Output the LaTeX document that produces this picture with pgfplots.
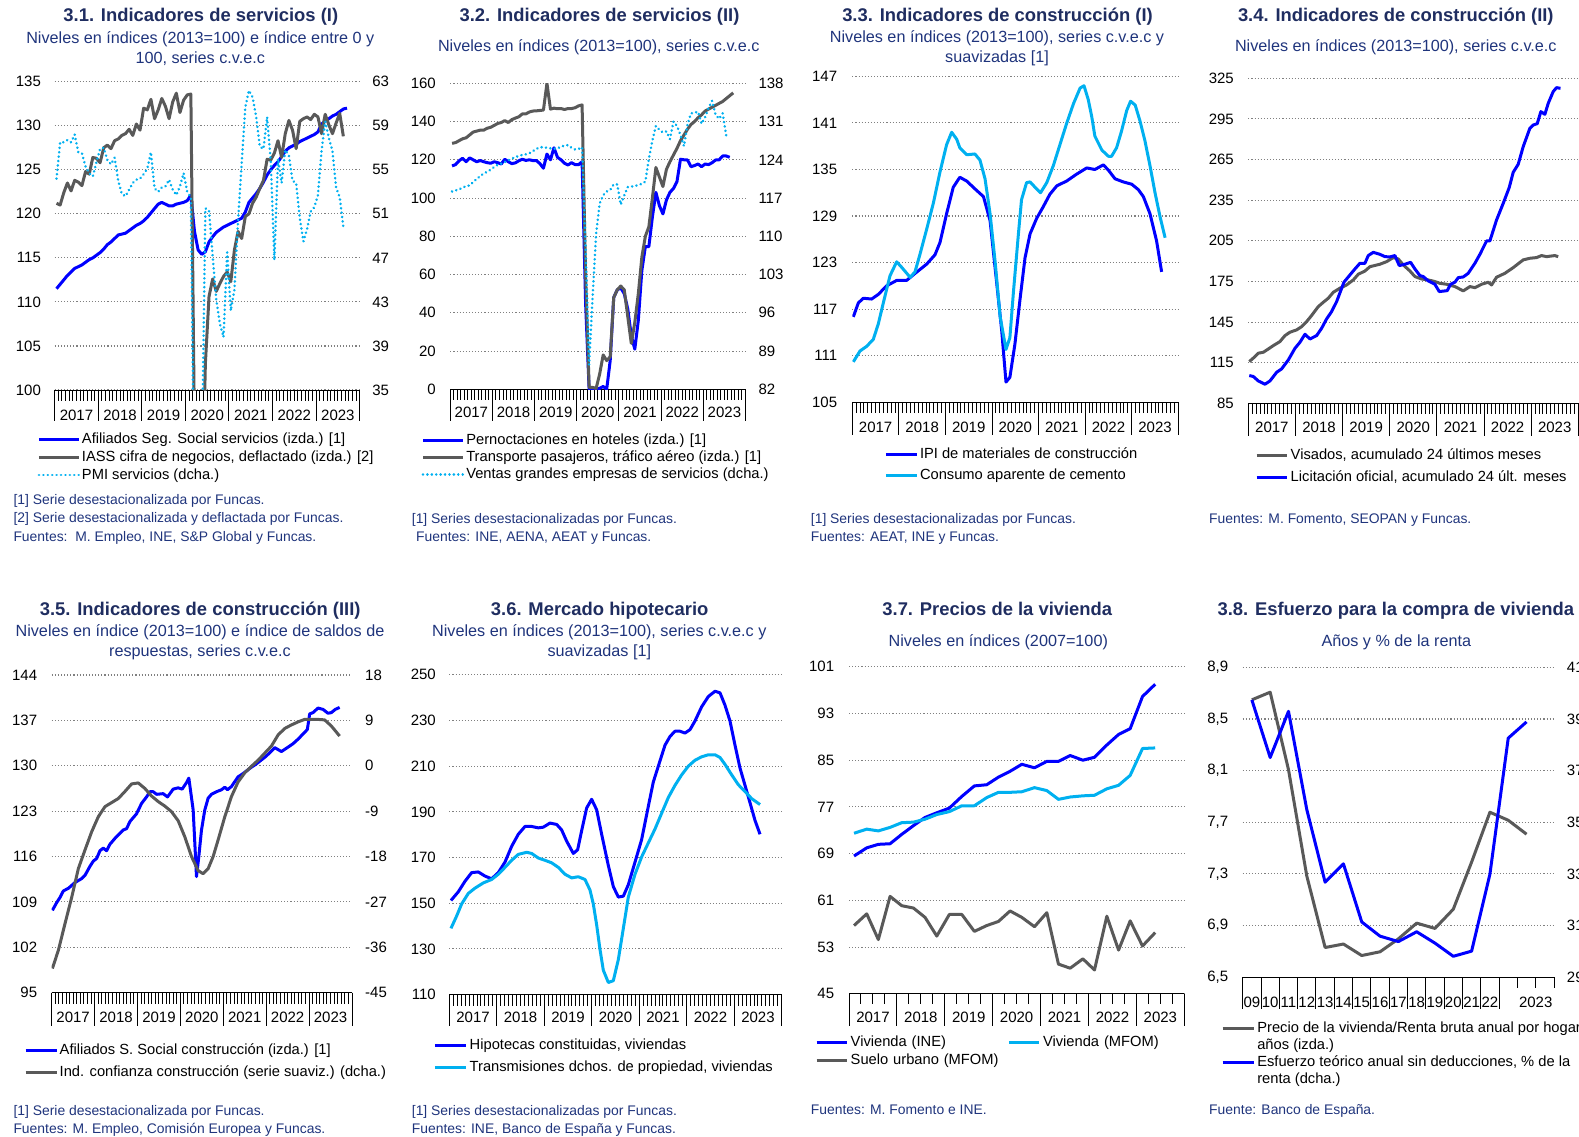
\documentclass[border=0pt]{standalone}
\usepackage{pgfplots}
\pgfplotsset{compat=1.18}
\usepackage{fontspec}
\setmainfont{Liberation Sans}
\definecolor{ttl}{RGB}{31,45,96}
\definecolor{sub}{RGB}{31,52,124}
\definecolor{cblue}{RGB}{0,0,255}
\definecolor{cgray}{RGB}{89,89,89}
\definecolor{ccyan}{RGB}{0,176,240}
\definecolor{cgrid}{RGB}{128,128,128}
\newcommand{\fs}[1]{\fontsize{#1}{#1}\selectfont}

\pgfplotsset{
  base/.style={scale only axis, anchor=south west, enlargelimits=false, no markers,
    axis x line*=bottom, axis y line*=left, axis line style={-, line width=1pt, black},
    y axis line style={draw=none}, ytick style={draw=none},
    tick align=inside, xtick style={line width=1pt, black},
    major tick length=0pt, minor tick length=-11pt,
    ymajorgrids, grid style={line width=1.1pt, cgrid, dash pattern=on 1.1pt off 2pt},
    tick label style={font=\fs{15}, text=black},
    yticklabel style={anchor=east, inner sep=0pt},
    xticklabel style={anchor=center, inner sep=0pt}},
  rax/.style={scale only axis, anchor=south west, enlargelimits=false, no markers,
    axis x line=none, axis y line*=right, axis line style={-},
    y axis line style={draw=none}, ytick style={draw=none}, major tick length=0pt,
    tick label style={font=\fs{15}, text=black},
    yticklabel style={anchor=west, inner sep=0pt}},
  monthly/.style={xmin=0, xmax=84, xtick={6,18,30,42,54,66,78},
    xticklabels={2017,2018,2019,2020,2021,2022,2023}, minor xtick={0,1,...,84},
    extra x ticks={0,12,24,36,48,60,72,84}, extra x tick labels={},
    extra x tick style={major tick length=-31.5pt}},
  leg/.style={legend cell align=left, legend style={draw=none, fill=none, inner sep=0pt, outer sep=0pt,
    at={(0,0)}, anchor=north west, font=\fs{14.7},
    nodes={inner sep=0pt, text height=11pt, text depth=3pt}}},
  limg/.style={legend image code/.code={\draw[##1] (0pt,0pt) -- (#1,0pt);}},
  lb/.style={cblue, line width=3pt, line join=round},
  lg/.style={cgray, line width=3pt, line join=round},
  lc/.style={ccyan, line width=3pt, line join=round},
  ld/.style={ccyan, line width=2.8pt, line cap=round, dash pattern=on 0.01pt off 4.4pt},
}

\begin{document}
\begin{tikzpicture}
\path[use as bounding box] (0pt,0pt) rectangle (1579pt,-1137pt);

% ================= 3.1 =================
\begin{axis}[base, monthly, at={(54.7pt,-390pt)}, width=305pt, height=308.3pt,
  ymin=100, ymax=135, ytick={100,105,...,135}, yticklabels={100,105,110,115,120,125,130,135},
  yticklabel style={xshift=-13.6pt}, xticklabel style={yshift=-25pt}]
\addplot[lb] coordinates {(0.5,111.5)(1.5,112.0)(2.5,112.5)(3.5,113.0)(4.5,113.4)(5.5,113.8)(6.5,114.0)(7.5,114.2)(8.5,114.5)(9.5,114.8)(10.5,115.0)(11.5,115.3)(12.5,115.6)(13.5,116.0)(14.5,116.5)(15.5,116.8)(16.5,117.2)(17.5,117.6)(18.5,117.7)(19.5,117.8)(20.5,118.1)(21.5,118.4)(22.5,118.7)(23.5,118.9)(24.5,119.2)(25.5,119.6)(26.5,120.1)(27.5,120.6)(28.5,121.1)(29.5,121.3)(30.5,121.1)(31.5,120.9)(32.5,120.9)(33.5,121.1)(34.5,121.2)(35.5,121.3)(36.5,121.5)(37.5,122.1)(38.5,118.0)(39.5,115.9)(40.5,115.4)(41.5,115.7)(42.5,116.8)(43.5,117.4)(44.5,117.9)(45.5,118.2)(46.5,118.5)(47.5,118.7)(48.5,118.9)(49.5,119.1)(50.5,119.3)(51.5,119.5)(52.5,120.2)(53.5,121.3)(54.5,121.8)(55.5,122.3)(56.5,122.9)(57.5,123.6)(58.5,124.4)(59.5,125.0)(60.5,125.5)(61.5,125.9)(62.5,126.5)(63.5,127.1)(64.5,127.5)(65.5,127.7)(66.5,127.9)(67.5,128.2)(68.5,128.4)(69.5,128.6)(70.5,128.8)(71.5,129.0)(72.5,129.3)(73.5,130.2)(74.5,130.5)(75.5,130.8)(76.5,131.1)(77.5,131.3)(78.5,131.6)(79.5,131.9)(80.5,132.0)};
\addplot[lg] coordinates {(0.5,121.2)(1.5,121.0)(2.5,122.4)(3.5,123.5)(4.5,122.6)(5.5,123.8)(6.5,123.6)(7.5,123.2)(8.5,124.8)(9.5,124.5)(10.5,126.4)(11.5,126.3)(12.5,125.8)(13.5,127.5)(14.5,127.8)(15.5,127.4)(16.5,128.3)(17.5,128.5)(18.5,128.9)(19.5,129.1)(20.5,129.6)(21.5,128.9)(22.5,130.2)(23.5,129.5)(24.5,132.0)(25.5,131.8)(26.5,133.0)(27.5,130.8)(28.5,131.8)(29.5,133.1)(30.5,132.2)(31.5,130.8)(32.5,132.7)(33.5,133.7)(34.5,131.5)(35.5,132.9)(36.5,133.5)(37.5,133.6)(38.5,95)(39.5,75)(40.5,85)(41.5,103)(42.5,110.6)(43.5,112.6)(44.5,111.2)(45.5,112.1)(46.5,112.9)(47.5,113.4)(48.5,112.3)(49.5,115.9)(50.5,118.0)(51.5,117.2)(52.5,119.7)(53.5,120.0)(54.5,121.2)(55.5,121.9)(56.5,122.9)(57.5,123.8)(58.5,126.2)(59.5,126.1)(60.5,126.9)(61.5,128.3)(62.5,126.4)(63.5,129.1)(64.5,130.6)(65.5,129.5)(66.5,127.4)(67.5,130.5)(68.5,130.8)(69.5,131.0)(70.5,130.7)(71.5,131.3)(72.5,131.0)(73.5,129.1)(74.5,131.3)(75.5,130.1)(76.5,129.1)(77.5,130.3)(78.5,131.4)(79.5,128.8)};
\end{axis}
\begin{axis}[rax, leg, limg=40pt, at={(54.7pt,-390pt)}, width=305pt, height=308.3pt, xmin=0, xmax=84,
  ymin=35, ymax=63, ytick={35,39,...,63}, yticklabels={35,39,43,47,51,55,59,63},
  yticklabel style={xshift=12.4pt},
  legend style={xshift=-17.2pt, yshift=-42pt, row sep=4pt, column sep=1.5pt}]
\addlegendimage{lb}\addlegendentry{Afiliados Seg. Social servicios (izda.) [1]}
\addlegendimage{lg}\addlegendentry{IASS cifra de negocios, deflactado (izda.) [2]}
\addplot[ld] coordinates {(0.5,54.2)(1.5,57.5)(2.5,57.5)(3.5,57.7)(4.5,57.5)(5.5,58.2)(6.5,56.6)(7.5,56.5)(8.5,55.3)(9.5,54.7)(10.5,54.4)(11.5,55.7)(12.5,56.9)(13.5,57.0)(14.5,55.9)(15.5,55.5)(16.5,56.1)(17.5,54.0)(18.5,52.8)(19.5,52.6)(20.5,53.2)(21.5,53.8)(22.5,54.1)(23.5,54.2)(24.5,54.6)(25.5,55.1)(26.5,56.6)(27.5,53.3)(28.5,53.0)(29.5,53.4)(30.5,53.5)(31.5,54.1)(32.5,53.2)(33.5,52.7)(34.5,53.5)(35.5,54.7)(36.5,53.0)(37.5,52.5)(38.5,23.0)(39.5,7.1)(40.5,27.9)(41.5,51.5)(42.5,51.3)(43.5,47.2)(44.5,43.2)(45.5,41.0)(46.5,39.8)(47.5,47.5)(48.5,42.2)(49.5,44.1)(50.5,50.4)(51.5,55.6)(52.5,60.7)(53.5,62.2)(54.5,61.6)(55.5,59.8)(56.5,57.1)(57.5,56.9)(58.5,59.8)(59.5,55.8)(60.5,46.8)(61.5,56.0)(62.5,53.8)(63.5,56.8)(64.5,56.3)(65.5,54.0)(66.5,53.8)(67.5,50.6)(68.5,48.5)(69.5,49.6)(70.5,51.2)(71.5,51.6)(72.5,52.7)(73.5,56.7)(74.5,59.4)(75.5,57.9)(76.5,56.7)(77.5,53.4)(78.5,52.5)(79.5,49.8)};
\addlegendentry{PMI servicios (dcha.)}
\end{axis}

% ================= 3.2 =================
\begin{axis}[base, monthly, at={(450.3pt,-389.3pt)}, width=295.2pt, height=306pt,
  ymin=0, ymax=160, ytick={0,20,...,160}, yticklabels={0,20,40,60,80,100,120,140,160},
  yticklabel style={xshift=-14.3pt}, xticklabel style={yshift=-23pt}]
\addplot[lb] coordinates {(0.5,116.8)(1.5,117.5)(2.5,119.5)(3.5,120.8)(4.5,119.0)(5.5,121.0)(6.5,120.0)(7.5,119.0)(8.5,119.6)(9.5,119.0)(10.5,118.5)(11.5,118.2)(12.5,119.0)(13.5,118.5)(14.5,117.8)(15.5,120.3)(16.5,119.0)(17.5,118.0)(18.5,118.4)(19.5,119.5)(20.5,120.3)(21.5,119.7)(22.5,120.0)(23.5,119.6)(24.5,119.6)(25.5,118.0)(26.5,115.6)(27.5,123.0)(28.5,120.0)(29.5,126.3)(30.5,121.3)(31.5,120.0)(32.5,118.2)(33.5,117.3)(34.5,118.5)(35.5,117.5)(36.5,117.5)(37.5,119.0)(38.5,45)(39.5,0)(40.5,0)(41.5,0)(42.5,0.5)(43.5,1.5)(44.5,0)(45.5,15)(46.5,48)(47.5,52)(48.5,53)(49.5,50)(50.5,42)(51.5,28)(52.5,21)(53.5,36)(54.5,62)(55.5,74.6)(56.5,74.6)(57.5,90)(58.5,103)(59.5,96)(60.5,91.7)(61.5,99)(62.5,103)(63.5,105)(64.5,108.6)(65.5,120.3)(66.5,120)(67.5,119.9)(68.5,116.4)(69.5,117)(70.5,117.8)(71.5,116.4)(72.5,117.8)(73.5,117.5)(74.5,118.5)(75.5,119.9)(76.5,120)(77.5,122)(78.5,122)(79.5,121.3)};
\addplot[lg] coordinates {(0.5,128.6)(1.5,129.0)(2.5,130.0)(3.5,131.0)(4.5,131.5)(5.5,133.0)(6.5,134.5)(7.5,135.0)(8.5,135.5)(9.5,135.5)(10.5,136.5)(11.5,137.0)(12.5,138.0)(13.5,139.0)(14.5,139.5)(15.5,140.5)(16.5,139.5)(17.5,141.0)(18.5,141.8)(19.5,142.5)(20.5,144.0)(21.5,144.0)(22.5,145.0)(23.5,145.5)(24.5,145.6)(25.5,145.8)(26.5,146.0)(27.5,160.0)(28.5,146.5)(29.5,147.0)(30.5,146.7)(31.5,146.8)(32.5,146.3)(33.5,146.8)(34.5,146.8)(35.5,147.2)(36.5,148.2)(37.5,148.7)(38.5,60)(39.5,1)(40.5,1)(41.5,0.5)(42.5,8)(43.5,18)(44.5,15)(45.5,17)(46.5,48)(47.5,52)(48.5,54)(49.5,52)(50.5,38)(51.5,24)(52.5,35)(53.5,50)(54.5,69)(55.5,80)(56.5,85)(57.5,100)(58.5,116)(59.5,111)(60.5,106)(61.5,115)(62.5,119)(63.5,122.5)(64.5,126)(65.5,130)(66.5,133)(67.5,136)(68.5,138.5)(69.5,140)(70.5,142)(71.5,143.5)(72.5,145.5)(73.5,146.5)(74.5,147.5)(75.5,148.5)(76.5,149.5)(77.5,150.5)(78.5,152)(79.5,153.5)(80.5,155)};
\end{axis}
\begin{axis}[rax, leg, limg=40pt, at={(450.3pt,-389.3pt)}, width=295.2pt, height=306pt, xmin=0, xmax=84,
  ymin=82, ymax=138, ytick={82,89,...,138}, yticklabels={82,89,96,103,110,117,124,131,138},
  yticklabel style={xshift=12.8pt},
  legend style={xshift=-28.8pt, yshift=-43.7pt, row sep=3.3pt, column sep=1.8pt}]
\addlegendimage{lb}\addlegendentry{Pernoctaciones en hoteles (izda.) [1]}
\addlegendimage{lg}\addlegendentry{Transporte pasajeros, tráfico aéreo (izda.) [1]}
\addplot[ld] coordinates {(0.5,118.2)(1.5,118.4)(2.5,118.6)(3.5,118.9)(4.5,119.2)(5.5,119.3)(6.5,119.9)(7.5,120.5)(8.5,121.0)(9.5,121.5)(10.5,121.8)(11.5,122.2)(12.5,122.7)(13.5,123.1)(14.5,123.3)(15.5,123.6)(16.5,123.9)(17.5,124.2)(18.5,124.5)(19.5,124.7)(20.5,124.9)(21.5,125.0)(22.5,125.2)(23.5,125.6)(24.5,126.0)(25.5,126.3)(26.5,126.3)(27.5,126.2)(28.5,126.1)(29.5,126.0)(30.5,126.1)(31.5,126.4)(32.5,126.6)(33.5,126.7)(34.5,126.2)(35.5,125.9)(36.5,126.0)(37.5,126.3)(38.5,108)(39.5,86.5)(40.5,99)(41.5,110.5)(42.5,116)(43.5,117.5)(44.5,118.2)(45.5,118.5)(46.5,119.5)(47.5,119.5)(48.5,115.8)(49.5,117.5)(50.5,119.0)(51.5,119.1)(52.5,119.2)(53.5,119.4)(54.5,119.6)(55.5,120.0)(56.5,124.2)(57.5,127.5)(58.5,130.2)(59.5,129.5)(60.5,129.0)(61.5,129.2)(62.5,127.8)(63.5,131.0)(64.5,130.2)(65.5,128.5)(66.5,126.5)(67.5,130.5)(68.5,132.5)(69.5,132.6)(70.5,132.8)(71.5,130.6)(72.5,131.8)(73.5,133.5)(74.5,134.8)(75.5,132.2)(76.5,131.5)(77.5,132.5)(78.5,128.5)};
\addlegendentry{Ventas grandes empresas de servicios (dcha.)}
\end{axis}

% ================= 3.3 =================
\begin{axis}[base, monthly, leg, limg=30.7pt, at={(852.3pt,-402.2pt)}, width=326pt, height=325.8pt,
  ymin=105, ymax=147, ytick={105,111,...,147}, yticklabels={105,111,117,123,129,135,141,147},
  yticklabel style={xshift=-15pt}, xticklabel style={yshift=-25pt}, extra x tick style={major tick length=-32.4pt},
  legend style={xshift=32pt, yshift=-45.3pt, row sep=6.7pt, column sep=2pt}]
\addplot[lb] coordinates {(0.26,116.0)(1.55,117.8)(2.84,118.4)(4.98,118.3)(6.70,118.9)(8.85,120.0)(11.43,120.7)(14.0,120.7)(16.15,121.6)(19.16,122.8)(21.3,124.0)(22.6,125.6)(24.3,129.3)(26.0,132.7)(27.7,134.0)(29.5,133.5)(31.6,132.5)(33.8,131.5)(35.5,128.4)(37.2,120.4)(38.5,114.2)(39.6,107.6)(40.6,108.2)(41.9,112.5)(43.2,118.2)(44.5,123.6)(45.8,126.7)(47.5,128.7)(49.2,130.2)(50.9,131.8)(52.7,132.9)(55.2,133.5)(57.8,134.4)(60.4,135.2)(62.5,135.0)(64.7,135.6)(66.0,134.9)(67.7,133.8)(69.8,133.4)(72.0,133.1)(73.7,132.4)(75.0,131.5)(76.7,129.3)(78.4,125.8)(79.7,121.8)};
\addlegendentry{IPI de materiales de construcción}
\addplot[lc] coordinates {(0.26,110.2)(1.98,111.6)(3.69,112.2)(5.41,113.1)(6.70,115.1)(7.99,117.8)(9.71,121.3)(11.43,123.1)(12.7,122.4)(14.9,121.1)(16.15,121.8)(17.4,124.0)(19.16,127.3)(20.9,130.7)(22.6,134.7)(24.3,138.2)(25.6,139.8)(26.9,138.9)(27.7,137.8)(29.5,136.9)(31.6,137.0)(32.9,136.2)(34.2,133.8)(35.5,129.3)(36.8,123.1)(38.1,116.0)(39.6,111.8)(40.6,113.3)(41.5,119.1)(42.8,126.7)(43.6,131.1)(44.9,133.3)(45.8,133.4)(47.1,132.7)(48.5,132.0)(50.1,133.3)(51.8,135.5)(53.5,138.2)(55.2,140.9)(57.0,143.5)(58.7,145.5)(59.7,145.8)(60.8,144.0)(61.7,141.8)(62.5,139.3)(64.3,137.5)(66.0,136.7)(66.8,136.7)(68.1,137.8)(69.4,140.0)(70.7,142.6)(71.7,143.8)(72.9,143.3)(74.1,141.3)(75.4,138.7)(76.7,135.5)(78.0,132.0)(79.3,128.9)(80.6,126.2)};
\addlegendentry{Consumo aparente de cemento}
\end{axis}

% ================= 3.4 =================
\begin{axis}[base, monthly, leg, limg=30pt, at={(1248.3pt,-403.3pt)}, width=330pt, height=325pt,
  ymin=85, ymax=325, ytick={85,115,...,325}, yticklabels={85,115,145,175,205,235,265,295,325},
  yticklabel style={xshift=-14.3pt}, xticklabel style={yshift=-24pt}, extra x tick style={major tick length=-32.3pt},
  legend style={xshift=6.7pt, yshift=-44.9pt, row sep=7.8pt, column sep=2.7pt}]
\addplot[lg] coordinates {(0.25,115.8)(1.70,119.5)(2.54,122.0)(3.82,122.7)(5.09,125.1)(6.36,127.6)(8.06,130.6)(9.33,135.0)(10.6,137.5)(12.3,139.2)(13.57,141.6)(14.84,145.3)(16.1,149.8)(17.81,156.4)(19.08,159.6)(20.36,162.6)(21.63,167.0)(23.32,170.0)(25.02,172.4)(26.72,176.1)(27.99,180.3)(29.69,182.7)(30.96,185.9)(33.5,187.7)(35.2,189.6)(36.9,192.6)(38.17,191.6)(39.44,187.2)(41.14,182.7)(42.41,178.6)(44.1,176.8)(45.8,176.1)(47.5,174.9)(48.77,173.6)(50.47,172.9)(52.59,171.2)(54.71,168.0)(56.4,171.2)(57.68,170.4)(59.37,172.9)(61.07,174.4)(61.92,172.4)(63.19,178.1)(65.31,181.0)(67.43,185.2)(69.97,190.9)(71.67,192.1)(73.37,192.6)(74.64,194.1)(75.91,193.3)(78.03,194.1)(78.88,193.3)};
\addlegendentry{Visados, acumulado 24 últimos meses}
\addplot[lb] coordinates {(0.25,105.5)(1.27,104.8)(2.54,101.5)(4.24,99.1)(5.51,101.5)(7.21,107.9)(8.48,110.4)(10.18,117.0)(11.87,125.6)(13.15,130.1)(14.42,136.0)(15.69,132.5)(17.39,135.0)(18.66,140.4)(19.93,147.3)(21.2,152.7)(22.48,160.1)(24.34,174.4)(25.87,179.8)(27.14,184.2)(28.41,188.4)(29.69,188.4)(30.53,194.1)(31.81,196.5)(33.5,195.0)(34.78,193.3)(36.05,193.1)(37.32,194.1)(38.42,186.7)(39.86,187.7)(41.31,189.1)(42.41,184.2)(43.68,179.3)(44.53,178.6)(45.8,175.4)(47.5,172.9)(48.6,167.5)(50.64,168.2)(51.48,172.9)(52.59,174.4)(53.44,177.8)(54.71,178.3)(55.98,181.0)(57.68,188.4)(58.95,195.0)(60.65,204.9)(61.49,204.9)(63.19,220.4)(64.89,232.7)(66.41,244.3)(67.43,255.6)(68.7,261.5)(69.97,274.5)(71.67,288.1)(72.52,290.5)(73.54,291.5)(74.47,300.4)(75.49,298.4)(76.34,306.5)(77.61,315.2)(78.46,318.1)(79.47,317.6)};
\addlegendentry{Licitación oficial, acumulado 24 últ. meses}
\end{axis}

% ================= 3.5 =================
\begin{axis}[base, monthly, at={(51.7pt,-992.7pt)}, width=300.3pt, height=317.7pt,
  ymin=95, ymax=144, ytick={95,102,...,144}, yticklabels={95,102,109,116,123,130,137,144},
  yticklabel style={xshift=-14.4pt}, xticklabel style={yshift=-24.6pt}, extra x tick style={major tick length=-33pt}]
\addplot[lb] coordinates {(0.19,107.7)(1.40,108.9)(2.33,109.7)(3.26,110.7)(4.66,111.1)(6.52,112.0)(8.38,112.6)(9.31,113.1)(10.71,114.5)(11.64,115.3)(12.57,115.7)(13.5,116.9)(14.43,117.3)(15.36,116.9)(16.29,117.9)(17.69,118.8)(19.09,119.6)(20.02,120.1)(20.95,120.3)(21.88,121.4)(22.81,122.0)(23.74,122.6)(25.14,124.2)(26.54,125.2)(27.47,126.0)(28.4,126.0)(29.33,125.6)(31.19,125.7)(32.4,125.2)(33.98,126.4)(35.38,126.6)(36.5,126.4)(37.71,127.4)(38.36,128.1)(39.57,123.2)(40.5,112.9)(41.15,116.0)(41.9,120.1)(42.83,123.2)(43.76,125.0)(44.69,125.6)(46.09,126.0)(47.49,126.3)(48.42,126.7)(49.16,126.3)(50.28,126.8)(52.14,128.3)(53.54,128.8)(55.4,129.6)(57.26,130.3)(59.59,131.3)(60.99,132.0)(62.38,132.8)(64.25,132.2)(65.64,132.7)(67.5,133.4)(68.9,134.1)(70.3,134.9)(71.51,135.6)(72.16,138.0)(73.09,138.2)(74.49,138.9)(75.88,138.7)(77.28,138.1)(78.21,138.2)(79.33,138.7)(80.54,139.0)};
\end{axis}
\begin{axis}[rax, leg, limg=31pt, at={(51.7pt,-992.7pt)}, width=300.3pt, height=317.7pt, xmin=0, xmax=84,
  ymin=-45, ymax=18, ytick={-45,-36,...,18}, yticklabels={-45,-36,-27,-18,-9,0,9,18},
  yticklabel style={xshift=13pt},
  legend style={xshift=-27.7pt, yshift=-50.7pt, row sep=7.6pt, column sep=1.7pt}]
\addlegendimage{lb}\addlegendentry{Afiliados S. Social construcción (izda.) [1]}
\addplot[lg] coordinates {(0.19,-40.2)(1.86,-36.6)(3.72,-31.3)(5.59,-26.1)(7.45,-20.4)(9.31,-16.7)(11.17,-13.1)(13.04,-10.1)(14.9,-8.1)(16.76,-7.3)(18.62,-6.5)(20.48,-5.1)(22.35,-3.6)(24.21,-3.4)(26.07,-4.5)(27.93,-6.0)(29.8,-7.1)(31.66,-8.0)(33.52,-9.1)(35.38,-10.9)(37.24,-14.1)(39.11,-18.0)(40.97,-20.8)(42.36,-21.4)(43.76,-20.4)(45.16,-18.0)(46.55,-14.7)(48.42,-10.1)(50.28,-6.1)(52.14,-3.2)(54.0,-1.4)(55.87,-0.1)(57.73,1.1)(59.59,2.5)(61.45,3.9)(63.31,6.1)(65.18,7.4)(67.04,8.1)(68.9,8.7)(70.76,9.2)(72.63,9.2)(74.49,9.2)(76.35,9.1)(78.21,7.9)(80.54,5.9)};
\addlegendentry{Ind. confianza construcción (serie suaviz.) (dcha.)}
\end{axis}

% ================= 3.6 =================
\begin{axis}[base, monthly, leg, limg=31pt, at={(449.3pt,-994.6pt)}, width=332.4pt, height=319.8pt,
  ymin=110, ymax=250, ytick={110,130,...,250}, yticklabels={110,130,150,170,190,210,230,250},
  yticklabel style={xshift=-13.3pt}, xticklabel style={yshift=-22.7pt},
  legend style={xshift=-16pt, yshift=-43.6pt, row sep=8.6pt, column sep=2.4pt}]
\addplot[lb] coordinates {(0.42,151.2)(2.27,155.0)(3.96,159.6)(5.64,163.4)(7.33,163.7)(9.01,161.9)(10.7,160.7)(12.38,163.4)(14.07,168.0)(15.75,174.9)(17.44,180.2)(19.12,183.6)(20.81,183.6)(22.49,183.0)(23.76,183.3)(25.44,185.1)(27.13,184.5)(28.39,182.1)(29.65,177.2)(31.34,171.8)(32.43,173.4)(33.45,181.8)(34.71,191.7)(35.97,195.5)(37.24,190.9)(38.5,180.2)(40.19,166.5)(41.45,157.3)(42.71,152.7)(43.98,153.1)(45.24,158.1)(46.93,168.0)(48.61,177.9)(50.29,192.4)(51.56,203.1)(53.24,212.3)(54.51,219.2)(55.77,223.0)(57.03,225.3)(58.3,225.3)(59.56,224.5)(60.83,226.0)(62.09,229.8)(63.77,236.0)(65.46,240.5)(67.14,242.8)(68.41,242.1)(69.67,236.7)(70.93,229.8)(72.2,219.2)(73.46,209.2)(74.73,201.6)(75.99,194.0)(77.25,186.3)(78.52,180.2)};
\addlegendentry{Hipotecas constituidas, viviendas}
\addplot[lc] coordinates {(0.42,139.0)(1.85,144.4)(3.12,149.7)(4.8,154.3)(6.49,156.6)(8.59,158.9)(10.7,160.4)(12.38,162.7)(14.07,165.7)(15.75,168.8)(17.44,171.4)(19.55,172.3)(20.81,171.8)(22.49,169.8)(24.18,168.8)(25.86,167.7)(27.55,165.7)(29.23,162.7)(30.92,161.1)(32.6,161.6)(34.29,160.4)(35.55,155.8)(36.39,149.7)(37.24,140.5)(38.08,129.8)(38.92,120.7)(40.19,115.3)(41.45,116.1)(42.71,125.3)(43.98,139.0)(45.24,152.7)(46.93,162.7)(48.61,170.3)(50.29,176.4)(51.98,182.5)(53.66,189.4)(55.35,196.3)(57.03,201.6)(58.72,206.2)(60.4,210.0)(62.09,212.6)(63.77,214.1)(65.46,215.0)(67.14,215.0)(68.41,213.8)(69.67,210.8)(71.36,206.2)(73.04,201.9)(74.73,198.9)(76.41,195.8)(78.52,193.2)};
\addlegendentry{Transmisiones dchos. de propiedad, viviendas}
\end{axis}

% ================= 3.7 =================
\begin{axis}[base, leg, limg=30pt, at={(849pt,-993.9pt)}, width=335.3pt, height=327.2pt,
  xmin=0, xmax=28, xtick={2,6,10,14,18,22,26}, xticklabels={2017,2018,2019,2020,2021,2022,2023},
  minor xtick={0,1,...,28}, minor tick length=-10pt,
  extra x ticks={0,4,8,12,16,20,24,28}, extra x tick labels={}, extra x tick style={major tick length=-32pt},
  ymin=45, ymax=101, ytick={45,53,...,101}, yticklabels={45,53,61,69,77,85,93,101},
  yticklabel style={xshift=-14.7pt}, xticklabel style={yshift=-23.4pt},
  legend columns=2,
  legend style={xshift=-34pt, yshift=-41.5pt, row sep=4.5pt, column sep=2.7pt, nodes={text width=153.9pt}}]
\addplot[lb] coordinates {(0.42,68.6)(1.48,70.0)(2.45,70.6)(3.43,70.7)(4.40,72.3)(5.38,73.8)(6.35,75.2)(7.33,76.0)(8.38,76.8)(9.42,78.8)(10.47,80.6)(11.50,80.8)(12.48,82.1)(13.45,83.1)(14.43,84.3)(15.49,83.7)(16.52,84.8)(17.49,84.8)(18.47,85.8)(19.53,85.0)(20.50,85.5)(21.53,87.6)(22.51,89.4)(23.48,90.4)(24.51,95.9)(25.57,98.0)};
\addlegendentry{Vivienda (INE)}
\addplot[lc] coordinates {(0.42,72.5)(1.48,73.2)(2.45,72.9)(3.43,73.5)(4.40,74.3)(5.38,74.4)(6.35,74.9)(7.33,75.7)(8.38,76.2)(9.42,77.2)(10.47,77.2)(11.50,78.6)(12.48,79.5)(13.45,79.5)(14.43,79.6)(15.49,80.3)(16.52,79.8)(17.49,78.3)(18.47,78.7)(19.53,78.9)(20.50,79.0)(21.53,80.1)(22.51,80.7)(23.48,82.4)(24.51,87.0)(25.57,87.1)};
\addlegendentry{Vivienda (MFOM)}
\addplot[lg] coordinates {(0.42,56.7)(1.48,58.7)(2.45,54.3)(3.43,61.7)(4.40,60.1)(5.38,59.7)(6.35,58.1)(7.33,54.9)(8.38,58.6)(9.42,58.6)(10.47,55.7)(11.50,56.7)(12.48,57.4)(13.45,59.2)(14.43,58.1)(15.49,56.5)(16.52,58.9)(17.49,50.1)(18.47,49.4)(19.53,51.0)(20.50,49.1)(21.53,58.3)(22.51,52.5)(23.48,57.5)(24.51,53.2)(25.57,55.5)};
\addlegendentry{Suelo urbano (MFOM)}
\end{axis}

% ================= 3.8 =================
\begin{axis}[base, at={(1242.7pt,-977.2pt)}, width=311.3pt, height=309.8pt,
  xmin=0, xmax=17, xtick={0.5,1.5,2.5,3.5,4.5,5.5,6.5,7.5,8.5,9.5,10.5,11.5,12.5,13.5,16},
  xticklabels={09,10,11,12,13,14,15,16,17,18,19,20,21,22,2023},
  minor xtick={15,16,17}, minor tick length=-10.4pt,
  extra x ticks={0,1,...,14}, extra x tick labels={}, extra x tick style={major tick length=-31.3pt},
  ymin=6.5, ymax=8.9, ytick={6.5,6.9,7.3,7.7,8.1,8.5,8.9}, yticklabels={{6,5},{6,9},{7,3},{7,7},{8,1},{8,5},{8,9}},
  yticklabel style={xshift=-14.4pt}, xticklabel style={yshift=-25pt}]
\addplot[lg] coordinates {(0.5,8.649)(1.5,8.708)(2.5,8.108)(3.5,7.284)(4.5,6.730)(5.5,6.757)(6.5,6.668)(7.5,6.697)(8.5,6.797)(9.5,6.919)(10.5,6.878)(11.5,7.027)(12.5,7.392)(13.5,7.778)(14.5,7.716)(15.5,7.608)};
\end{axis}
\begin{axis}[rax, leg, limg=31.7pt, at={(1242.7pt,-977.2pt)}, width=311.3pt, height=309.8pt, xmin=0, xmax=17,
  ymin=29, ymax=41, ytick={29,31,...,41}, yticklabels={29,31,33,35,37,39,41},
  yticklabel style={xshift=12.7pt},
  legend style={xshift=-21.7pt, yshift=-44.6pt, row sep=3pt, column sep=1.6pt}]
\addlegendimage{lg}\addlegendentry{Precio de la vivienda/Renta bruta anual por hogar,}
\addlegendimage{empty legend}\addlegendentry{años (izda.)}
\addplot[lb] coordinates {(0.5,39.74)(1.5,37.51)(2.5,39.30)(3.5,35.49)(4.5,32.68)(5.5,33.39)(6.5,31.14)(7.5,30.59)(8.5,30.38)(9.5,30.76)(10.5,30.32)(11.5,29.81)(12.5,30.01)(13.5,32.99)(14.5,38.26)(15.5,38.89)};
\addlegendentry{Esfuerzo teórico anual sin deducciones, \% de la}
\addlegendimage{empty legend}\addlegendentry{renta (dcha.)}
\end{axis}

% ================= titles, subtitles, notes =================
\begin{scope}[every node/.style={inner sep=0pt}]
\node[anchor=base, font=\bfseries\fs{18.4}, text=ttl] at (200.8pt,-21.5pt) {3.1. Indicadores de servicios (I)};
\node[anchor=base, font=\bfseries\fs{18.4}, text=ttl] at (599.5pt,-21.5pt) {3.2. Indicadores de servicios (II)};
\node[anchor=base, font=\bfseries\fs{18.4}, text=ttl] at (997.5pt,-21.5pt) {3.3. Indicadores de construcción (I)};
\node[anchor=base, font=\bfseries\fs{18.4}, text=ttl] at (1395.8pt,-21.5pt) {3.4. Indicadores de construcción (II)};
\node[anchor=base, font=\bfseries\fs{18.4}, text=ttl] at (200.2pt,-615pt) {3.5. Indicadores de construcción (III)};
\node[anchor=base, font=\bfseries\fs{18.4}, text=ttl] at (599.7pt,-615pt) {3.6. Mercado hipotecario};
\node[anchor=base, font=\bfseries\fs{18.4}, text=ttl] at (997.3pt,-615pt) {3.7. Precios de la vivienda};
\node[anchor=base, font=\bfseries\fs{18.4}, text=ttl] at (1395.8pt,-615pt) {3.8. Esfuerzo para la compra de vivienda};

\node[anchor=base, font=\fs{16.2}, text=sub] at (200.3pt,-43.4pt) {Niveles en índices (2013=100) e índice entre 0 y};
\node[anchor=base, font=\fs{16.2}, text=sub] at (200.3pt,-63.4pt) {100, series c.v.e.c};
\node[anchor=base, font=\fs{16.2}, text=sub] at (598.8pt,-51.6pt) {Niveles en índices (2013=100), series c.v.e.c};
\node[anchor=base, font=\fs{16.2}, text=sub] at (997pt,-42.2pt) {Niveles en índices (2013=100), series c.v.e.c y};
\node[anchor=base, font=\fs{16.2}, text=sub] at (997pt,-62.6pt) {suavizadas [1]};
\node[anchor=base, font=\fs{16.2}, text=sub] at (1395.8pt,-51.6pt) {Niveles en índices (2013=100), series c.v.e.c};
\node[anchor=base, font=\fs{16.2}, text=sub] at (200pt,-636.6pt) {Niveles en índice (2013=100) e índice de saldos de};
\node[anchor=base, font=\fs{16.2}, text=sub] at (200pt,-656.8pt) {respuestas, series c.v.e.c};
\node[anchor=base, font=\fs{16.2}, text=sub] at (599.3pt,-636.6pt) {Niveles en índices (2013=100), series c.v.e.c y};
\node[anchor=base, font=\fs{16.2}, text=sub] at (599.3pt,-656.8pt) {suavizadas [1]};
\node[anchor=base, font=\fs{16.2}, text=sub] at (998.3pt,-646.4pt) {Niveles en índices (2007=100)};
\node[anchor=base, font=\fs{16.2}, text=sub] at (1396.3pt,-646.4pt) {Años y \% de la renta};

\node[anchor=base west, font=\fs{13.9}, text=sub] at (13.3pt,-504.5pt) {[1] Serie desestacionalizada por Funcas.};
\node[anchor=base west, font=\fs{13.9}, text=sub] at (13.3pt,-522.5pt) {[2] Serie desestacionalizada y deflactada por Funcas.};
\node[anchor=base west, font=\fs{13.9}, text=sub] at (13.3pt,-541pt) {Fuentes:\ \ M. Empleo, INE, S\&P Global y Funcas.};
\node[anchor=base west, font=\fs{13.9}, text=sub] at (411.7pt,-523.2pt) {[1] Series desestacionalizadas por Funcas.};
\node[anchor=base west, font=\fs{13.9}, text=sub] at (416pt,-541pt) {Fuentes: INE, AENA, AEAT y Funcas.};
\node[anchor=base west, font=\fs{13.9}, text=sub] at (810.7pt,-523.2pt) {[1] Series desestacionalizadas por Funcas.};
\node[anchor=base west, font=\fs{13.9}, text=sub] at (810.7pt,-541pt) {Fuentes: AEAT, INE y Funcas.};
\node[anchor=base west, font=\fs{13.9}, text=sub] at (1209pt,-523.2pt) {Fuentes: M. Fomento, SEOPAN y Funcas.};
\node[anchor=base west, font=\fs{13.9}, text=sub] at (13.3pt,-1115.4pt) {[1] Serie desestacionalizada por Funcas.};
\node[anchor=base west, font=\fs{13.9}, text=sub] at (13.3pt,-1133.9pt) {Fuentes: M. Empleo, Comisión Europea y Funcas.};
\node[anchor=base west, font=\fs{13.9}, text=sub] at (411.7pt,-1115.4pt) {[1] Series desestacionalizadas por Funcas.};
\node[anchor=base west, font=\fs{13.9}, text=sub] at (411.7pt,-1133.9pt) {Fuentes: INE, Banco de España y Funcas.};
\node[anchor=base west, font=\fs{13.9}, text=sub] at (810.7pt,-1114pt) {Fuentes: M. Fomento e INE.};
\node[anchor=base west, font=\fs{13.9}, text=sub] at (1209pt,-1114pt) {Fuente: Banco de España.};
\end{scope}
\end{tikzpicture}
\end{document}
